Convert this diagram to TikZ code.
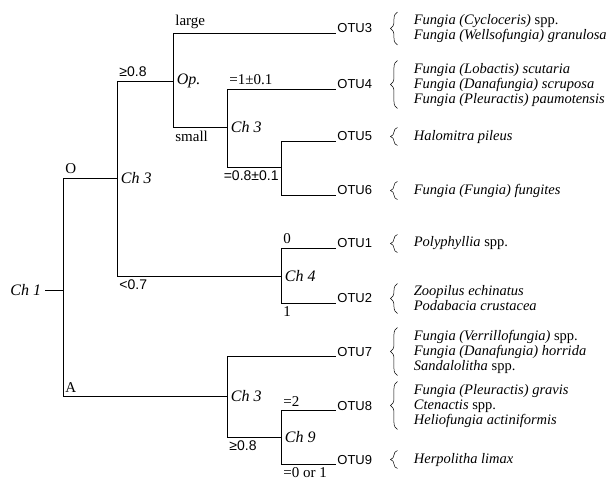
\documentclass[tikz,border=0pt]{standalone}
\usepackage{fontspec}
\setmainfont{Liberation Serif}
\newfontfamily\otufont{Liberation Sans}
\usetikzlibrary{positioning,decorations.pathreplacing}

\begin{document}
\begin{tikzpicture}[x=1pt,y=-1pt,line width=0.8pt,
    lab/.style={inner xsep=2pt,inner ysep=3.5pt,font=\fontsize{15}{17}\selectfont},
    num/.style={lab,font=\otufont\fontsize{14}{16}\selectfont},
    ch/.style={inner sep=3.5pt,font=\fontsize{16}{18}\selectfont\itshape},
    otu/.style={anchor=base west,inner sep=1pt,font=\otufont\fontsize{13}{15}\selectfont},
    spp/.style={inner sep=2pt,align=left,font=\fontsize{14.5}{15}\selectfont\itshape},
    brc/.style={decorate,decoration={brace,amplitude=7pt},line width=0.5pt}]
    \useasboundingbox(0,0)rectangle(616,486);

    % branching points
    \coordinate(root)at(63,290);\coordinate(j1)at(117,178);\coordinate(j2)at(173,81);\coordinate(j3)at(227,127);
    \coordinate(j4)at(281,167);\coordinate(j5)at(281,276);\coordinate(j6)at(227,396);\coordinate(j7)at(281,437);
    \node[ch,left=18pt of root](ch1){Ch 1};
    \node[ch,right](c1)at(j1){Ch 3};\node[ch,right](c2)at(j2){Op.};\node[ch,right](c3)at(j3){Ch 3};
    \node[ch,right](c5)at(j5){Ch 4};\node[ch,right](c6)at(j6){Ch 3};\node[ch,right](c7)at(j7){Ch 9};

    % OTUs
    \foreach\o/\y in{3/33,4/89,5/141,6/195,1/248,2/303,7/356,8/410,9/464}{\node[otu](otu\o)at(336,\y){OTU\o};};

    % species
    \node[spp,right=38pt of otu3](sp3){Fungia (Cycloceris) {\upshape spp.}\\Fungia (Wellsofungia) granulosa};
    \node[spp,right=38pt of otu4](sp4){Fungia (Lobactis) scutaria\\Fungia (Danafungia) scruposa\\Fungia (Pleuractis) paumotensis};
    \node[spp,right=38pt of otu5](sp5){Halomitra pileus};
    \node[spp,right=38pt of otu6](sp6){Fungia (Fungia) fungites};
    \node[spp,right=38pt of otu1](sp1){Polyphyllia {\upshape spp.}};
    \node[spp,right=38pt of otu2](sp2){Zoopilus echinatus\\Podabacia crustacea};
    \node[spp,right=38pt of otu7](sp7){Fungia (Verrillofungia) {\upshape spp.}\\Fungia (Danafungia) horrida\\Sandalolitha {\upshape spp.}};
    \node[spp,right=38pt of otu8](sp8){Fungia (Pleuractis) gravis\\Ctenactis {\upshape spp.}\\Heliofungia actiniformis};
    \node[spp,right=38pt of otu9](sp9){Herpolitha limax};
    \foreach\s in{1,...,9}{\draw[brc]([xshift=-14pt]sp\s.south west)--([xshift=-14pt]sp\s.north west);};

    % branches
    \draw(ch1)--(root);
    \draw(root)|-node[lab,above right](lo){O}(j1);
    \draw(root)|-node[lab,above right](la){A}(j6);
    \draw(j1)|-node[num,above right](lg1){≥0.8}(j2);
    \draw(j1)|-node[num,below right](ll1){<0.7}(j5);
    \draw(j2)|-node[lab,above right](llarge){large}(otu3.base west);
    \draw(j2)|-node[lab,below right](lsmall){small}(j3);
    \draw(j3)|-node[lab,above right](le1){=1±0.1}(otu4.base west);
    \draw(j3)|-node[num,pos=1,below left](le8){=0.8±0.1}(j4);
    \draw(j4)|-(otu5.base west);\draw(j4)|-(otu6.base west);
    \draw(j5)|-node[lab,above right](l0){0}(otu1.base west);
    \draw(j5)|-node[lab,below right](l1){1}(otu2.base west);
    \draw(j6)|-(otu7.base west);
    \draw(j6)|-node[num,below right](lg2){≥0.8}(j7);
    \draw(j7)|-node[lab,above right](le2){=2}(otu8.base west);
    \draw(j7)|-node[lab,below right](l01){=0 or 1}(otu9.base west);
\end{tikzpicture}
\end{document}
